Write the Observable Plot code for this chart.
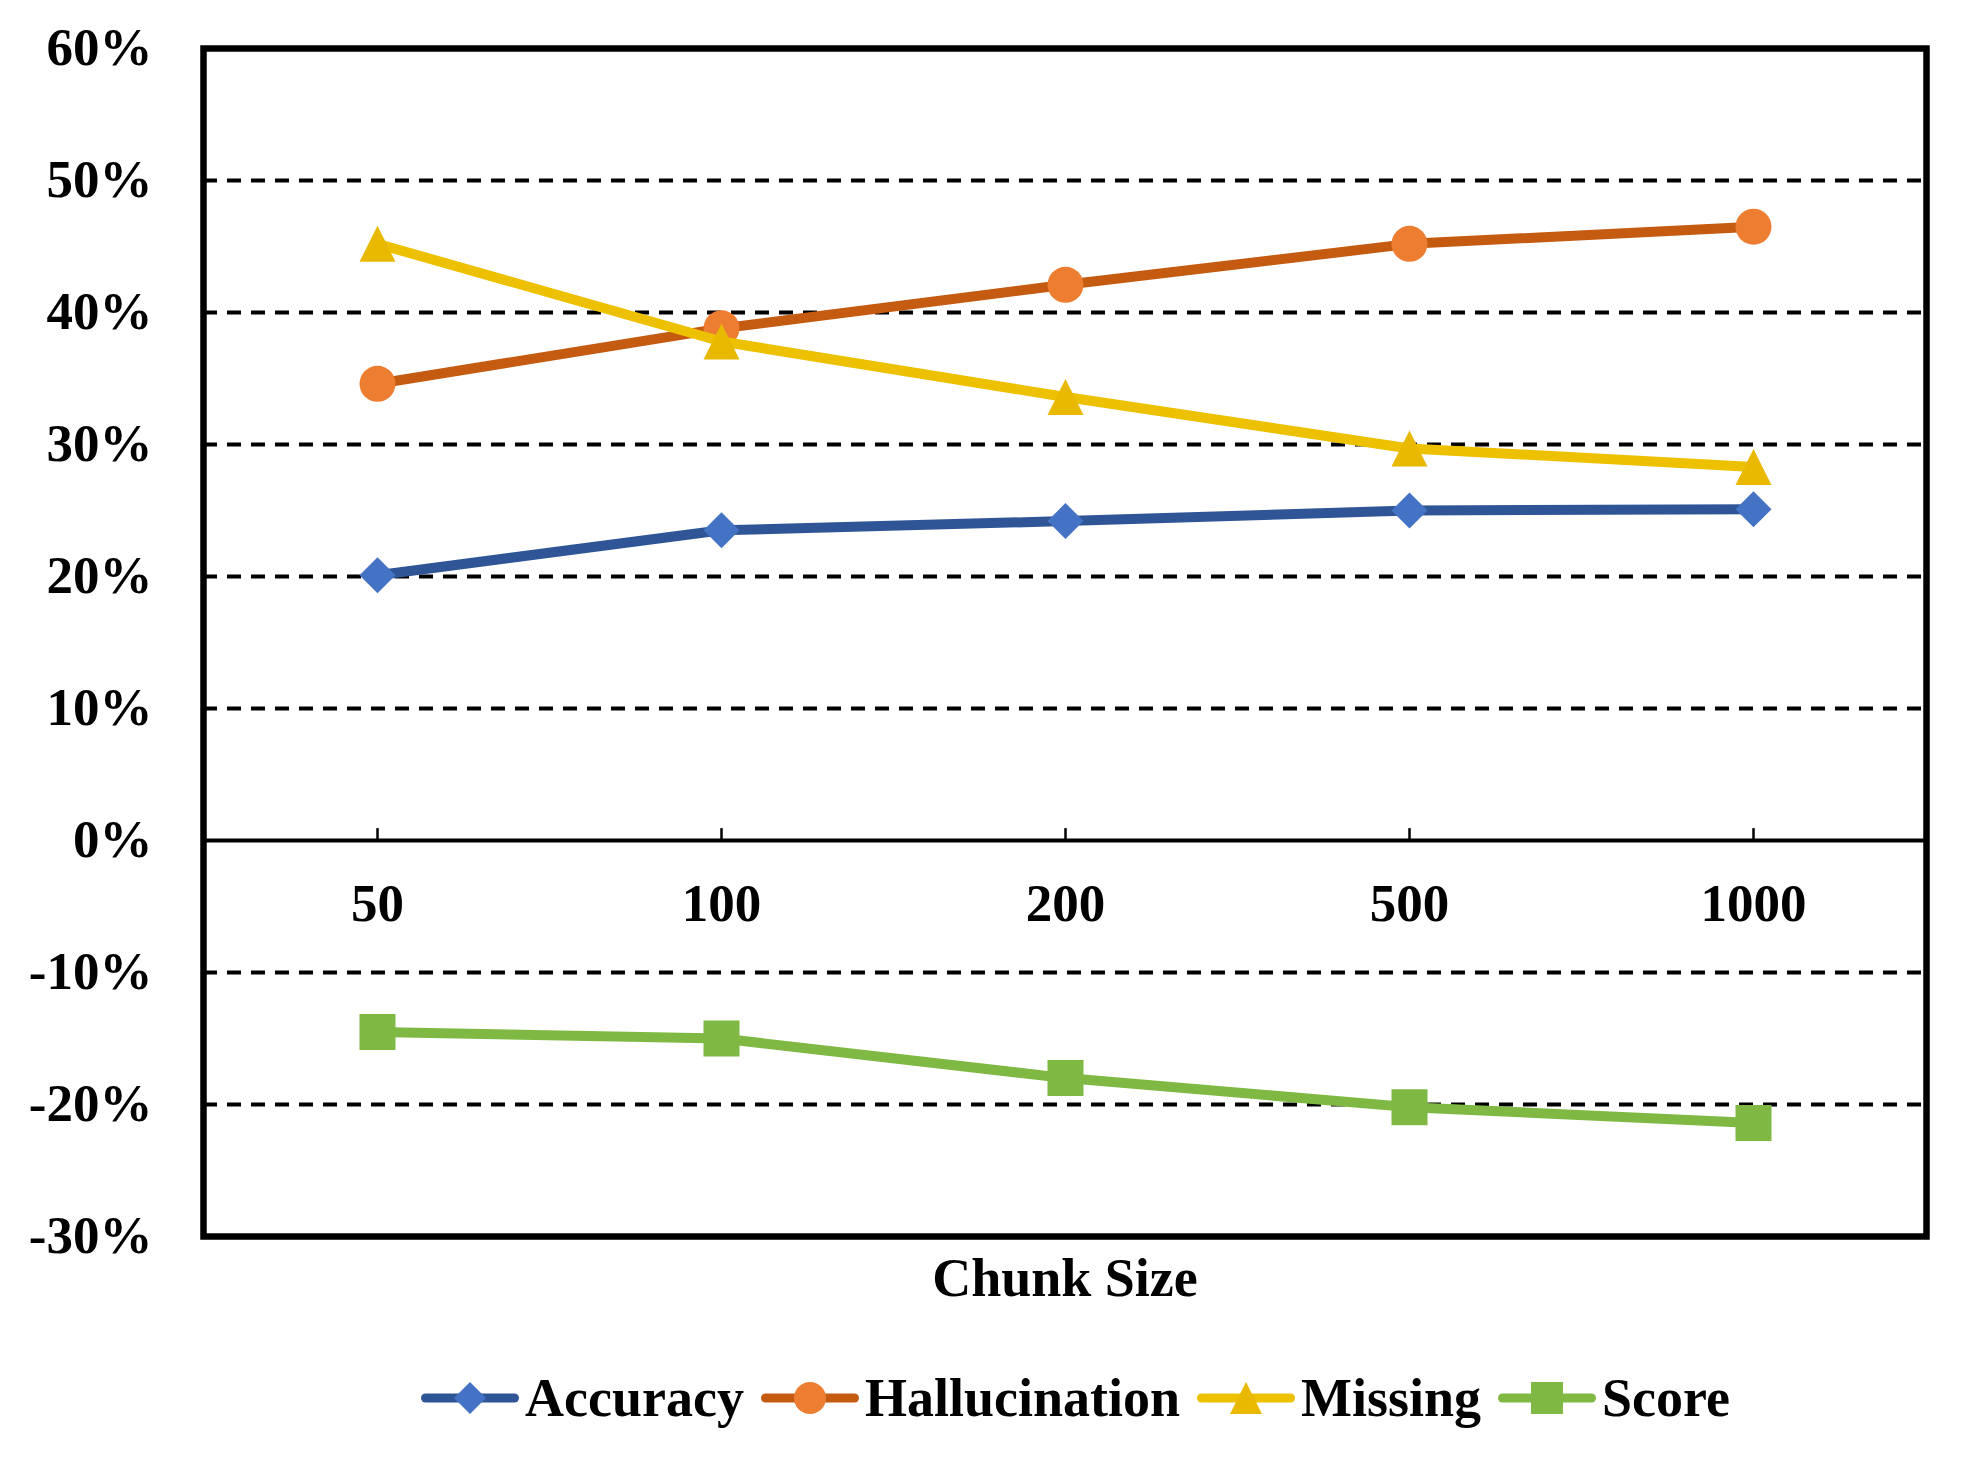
<!DOCTYPE html>
<html><head><meta charset="utf-8">
<script src="https://cdn.jsdelivr.net/npm/d3@7"></script>
<script src="https://cdn.jsdelivr.net/npm/@observablehq/plot@0.6"></script>
<style>
body{margin:0;background:#fff;}
#wrap{position:relative;width:1974px;height:1476px;background:#fff;}
#legend{position:absolute;left:421px;top:1360px;height:76px;display:flex;align-items:center;font-family:"Liberation Serif","Times New Roman",serif;font-weight:bold;font-size:54px;color:#000;white-space:nowrap;}
.item{display:flex;align-items:center;margin-right:17px;}
.item svg{margin-right:6px;display:block;}
</style></head><body><div id="wrap"><div id="chart"></div><div id="legend"></div></div>
<script>
const chunkSizes = ["50", "100", "200", "500", "1000"];
const seriesNames = ["Accuracy", "Hallucination", "Missing", "Score"];
const accuracy = [0.201, 0.235, 0.242, 0.250, 0.251];
const hallucination = [0.346, 0.388, 0.421, 0.452, 0.465];
const missing = [0.452, 0.378, 0.336, 0.297, 0.283];
const score = [-0.145, -0.150, -0.180, -0.202, -0.214];
const yTicks = [-0.3, -0.2, -0.1, 0, 0.1, 0.2, 0.3, 0.4, 0.5, 0.6];
const dashedLevels = [-0.2, -0.1, 0.1, 0.2, 0.3, 0.4, 0.5];
const lineColors = ["#2F5597", "#C55A11", "#EEC100", "#7FB943"];
const markerColors = ["#4472C4", "#ED7D31", "#E8B900", "#7FB943"];

const symDiamond = {draw(c, s) {const h = Math.sqrt(s) / 2; c.moveTo(0, -h); c.lineTo(h, 0); c.lineTo(0, h); c.lineTo(-h, 0); c.closePath();}};
const symCircle = {draw(c, s) {const h = Math.sqrt(s) / 2; c.moveTo(h, 0); c.arc(0, 0, h, 0, 2 * Math.PI); c.closePath();}};
const symTriangle = {draw(c, s) {const h = Math.sqrt(s) / 2; c.moveTo(0, -h); c.lineTo(h, h); c.lineTo(-h, h); c.closePath();}};
const symSquare = {draw(c, s) {const h = Math.sqrt(s) / 2; c.rect(-h, -h, 2 * h, 2 * h);}};
const symbols = [symDiamond, symCircle, symTriangle, symSquare];

const valuesBy = [accuracy, hallucination, missing, score];
const rows = [];
seriesNames.forEach((s, i) => chunkSizes.forEach((c, j) => rows.push({series: s, chunk: c, value: valuesBy[i][j]})));

const font = "Liberation Serif";
const marks = [
  Plot.ruleY(dashedLevels, {stroke: "#000", strokeWidth: 4, strokeDasharray: "14,10"}),
  Plot.ruleY([0], {stroke: "#000", strokeWidth: 4}),
  Plot.ruleX(chunkSizes, {x: d => d, y1: () => 0, y2: () => 0.009, stroke: "#000", strokeWidth: 2.5}),
  Plot.axisY({ticks: yTicks, tickSize: 0, tickPadding: 51, tickFormat: d => Math.round(d * 100) + "%", label: null, fontSize: 53, fontWeight: "bold", fontFamily: font}),
  Plot.text(chunkSizes, {x: d => d, y: () => 0, dy: 64, text: d => d, fontSize: 53, fontWeight: "bold", fontFamily: font}),
  Plot.text(["Chunk Size"], {frameAnchor: "bottom", lineAnchor: "middle", dy: 42, text: d => d, fontSize: 54, fontWeight: "bold", fontFamily: font}),
  Plot.frame({stroke: "#000", strokeWidth: 6.5})
];
seriesNames.forEach((s, i) => {
  const d = rows.filter(r => r.series === s);
  marks.push(Plot.line(d, {x: "chunk", y: "value", stroke: lineColors[i], strokeWidth: 10}));
  marks.push(Plot.dot(d, {x: "chunk", y: "value", symbol: symbols[i], r: Math.sqrt(36 * 36 / Math.PI), fill: markerColors[i], stroke: "none"}));
});

const chart = Plot.plot({
  width: 1974,
  height: 1320,
  marginLeft: 203,
  marginRight: 48,
  marginTop: 48,
  marginBottom: 84,
  x: {type: "point", domain: chunkSizes, padding: 0.5, axis: null},
  y: {domain: [-0.3, 0.6], axis: null},
  style: {fontFamily: font, fontSize: "53px", fontWeight: "bold", color: "#000", background: "#fff"},
  marks
});
document.getElementById("chart").appendChild(chart);

const legend = document.getElementById("legend");
seriesNames.forEach((s, i) => {
  const item = document.createElement("div");
  item.className = "item";
  const svg = d3.create("svg").attr("width", 98).attr("height", 40);
  svg.append("line").attr("x1", 4.5).attr("x2", 93.5).attr("y1", 20).attr("y2", 20)
    .attr("stroke", lineColors[i]).attr("stroke-width", 9).attr("stroke-linecap", "round");
  svg.append("path").attr("transform", "translate(49,20)")
    .attr("d", d3.symbol(symbols[i], 32 * 32)()).attr("fill", markerColors[i]);
  item.appendChild(svg.node());
  const t = document.createElement("span");
  t.textContent = s;
  item.appendChild(t);
  legend.appendChild(item);
});
</script></body></html>
